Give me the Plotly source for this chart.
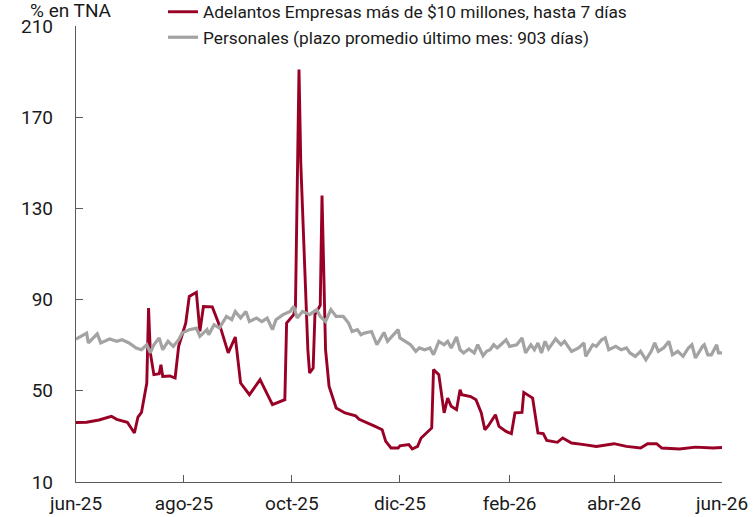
import plotly.graph_objects as go

# Tasa de adelantos a empresas (más de $10 millones, hasta 7 días), % TNA
adelantos_fechas = [
    "2025-06-01", "2025-06-07", "2025-06-14", "2025-06-21", "2025-06-24", "2025-06-30",
    "2025-07-04", "2025-07-06", "2025-07-08", "2025-07-11", "2025-07-12", "2025-07-13",
    "2025-07-15", "2025-07-18", "2025-07-19", "2025-07-20", "2025-07-24", "2025-07-27",
    "2025-07-29", "2025-07-31", "2025-08-02", "2025-08-04", "2025-08-08", "2025-08-10",
    "2025-08-12", "2025-08-17", "2025-08-20", "2025-08-22", "2025-08-26", "2025-08-30",
    "2025-09-02", "2025-09-07", "2025-09-13", "2025-09-17", "2025-09-20", "2025-09-27",
    "2025-09-28", "2025-10-02", "2025-10-03", "2025-10-05", "2025-10-06", "2025-10-10",
    "2025-10-11", "2025-10-13", "2025-10-14", "2025-10-17", "2025-10-18", "2025-10-20",
    "2025-10-22", "2025-10-26", "2025-10-31", "2025-11-06", "2025-11-08", "2025-11-17",
    "2025-11-21", "2025-11-23", "2025-11-26", "2025-11-30", "2025-12-01", "2025-12-06",
    "2025-12-08", "2025-12-11", "2025-12-13", "2025-12-19", "2025-12-20", "2025-12-23",
    "2025-12-26", "2025-12-28", "2025-12-30", "2026-01-02", "2026-01-04", "2026-01-05",
    "2026-01-10", "2026-01-13", "2026-01-16", "2026-01-18", "2026-01-20", "2026-01-24",
    "2026-01-26", "2026-01-30", "2026-02-02", "2026-02-04", "2026-02-08", "2026-02-09",
    "2026-02-14", "2026-02-17", "2026-02-20", "2026-02-22", "2026-02-28", "2026-03-03",
    "2026-03-08", "2026-03-15", "2026-03-22", "2026-04-01", "2026-04-08", "2026-04-16",
    "2026-04-20", "2026-04-25", "2026-04-28", "2026-05-08", "2026-05-17", "2026-05-27",
    "2026-06-01",
]
adelantos_tna = [
    36.1, 36.2, 37.2, 38.8, 37.5, 36.2,
    31.5, 38.5, 40.5, 53.4, 86.3, 66.7,
    57.1, 57.5, 61.4, 56.3, 56.5, 55.6,
    69.5, 74.6, 79.7, 91.4, 93.2, 76.1,
    87.0, 86.8, 80.4, 76.8, 66.6, 73.6,
    53.4, 48.3, 54.9, 48.3, 43.9, 46.1,
    79.7, 83.4, 87.0, 190.9, 150.0, 68.0,
    57.8, 60.0, 83.4, 87.5, 135.6, 68.0,
    51.9, 42.5, 40.3, 39.0, 37.5, 34.4,
    32.9, 27.8, 24.9, 24.9, 25.9, 26.4,
    24.5, 25.6, 29.3, 33.7, 59.3, 57.1,
    40.3, 46.8, 43.2, 41.7, 50.5, 48.3,
    47.5, 46.1, 40.3, 32.9, 34.7, 39.5,
    34.4, 32.2, 31.2, 40.3, 40.5, 49.3,
    46.8, 31.5, 31.2, 28.2, 27.4, 29.3,
    27.1, 26.4, 25.6, 26.8, 25.6, 24.9,
    26.8, 26.8, 24.9, 24.5, 25.3, 24.9,
    25.1,
]

# Tasa de préstamos personales, % TNA
personales_fechas = [
    "2025-06-01", "2025-06-07", "2025-06-08", "2025-06-13", "2025-06-15", "2025-06-20",
    "2025-06-24", "2025-06-27", "2025-07-01", "2025-07-05", "2025-07-08", "2025-07-11",
    "2025-07-13", "2025-07-15", "2025-07-18", "2025-07-20", "2025-07-23", "2025-07-26",
    "2025-07-29", "2025-07-31", "2025-08-04", "2025-08-08", "2025-08-10", "2025-08-14",
    "2025-08-15", "2025-08-18", "2025-08-21", "2025-08-25", "2025-08-28", "2025-08-30",
    "2025-09-02", "2025-09-05", "2025-09-07", "2025-09-11", "2025-09-14", "2025-09-17",
    "2025-09-20", "2025-09-22", "2025-09-26", "2025-09-30", "2025-10-02", "2025-10-04",
    "2025-10-07", "2025-10-11", "2025-10-15", "2025-10-17", "2025-10-20", "2025-10-23",
    "2025-10-26", "2025-10-30", "2025-11-02", "2025-11-04", "2025-11-07", "2025-11-09",
    "2025-11-11", "2025-11-15", "2025-11-18", "2025-11-22", "2025-11-24", "2025-11-30",
    "2025-12-01", "2025-12-04", "2025-12-07", "2025-12-10", "2025-12-12", "2025-12-15",
    "2025-12-18", "2025-12-20", "2025-12-23", "2025-12-26", "2025-12-28", "2025-12-30",
    "2026-01-02", "2026-01-04", "2026-01-06", "2026-01-09", "2026-01-12", "2026-01-14",
    "2026-01-17", "2026-01-19", "2026-01-21", "2026-01-23", "2026-01-25", "2026-01-27",
    "2026-01-30", "2026-02-01", "2026-02-05", "2026-02-08", "2026-02-10", "2026-02-13",
    "2026-02-15", "2026-02-17", "2026-02-19", "2026-02-21", "2026-02-23", "2026-02-27",
    "2026-03-02", "2026-03-04", "2026-03-08", "2026-03-12", "2026-03-15", "2026-03-16",
    "2026-03-20", "2026-03-22", "2026-03-25", "2026-03-27", "2026-03-29", "2026-04-02",
    "2026-04-05", "2026-04-08", "2026-04-10", "2026-04-13", "2026-04-16", "2026-04-19",
    "2026-04-22", "2026-04-24", "2026-04-26", "2026-04-29", "2026-05-02", "2026-05-04",
    "2026-05-07", "2026-05-10", "2026-05-13", "2026-05-15", "2026-05-17", "2026-05-21",
    "2026-05-22", "2026-05-24", "2026-05-26", "2026-05-29", "2026-05-30", "2026-06-01",
]
personales_tna = [
    72.7, 75.3, 71.0, 75.0, 71.0, 72.7,
    71.7, 72.4, 71.0, 68.8, 68.0, 70.2,
    66.6, 70.2, 73.2, 68.0, 71.7, 69.5,
    72.4, 75.4, 76.8, 77.5, 73.9, 76.8,
    74.6, 79.0, 77.5, 82.6, 81.2, 84.8,
    81.9, 84.8, 80.4, 81.9, 80.4, 81.9,
    76.8, 81.2, 83.4, 84.8, 87.0, 81.9,
    84.8, 83.4, 85.6, 82.6, 80.4, 85.6,
    82.6, 82.6, 79.7, 76.0, 76.8, 74.6,
    75.3, 76.0, 70.2, 75.6, 71.7, 76.8,
    73.2, 71.7, 70.2, 67.3, 68.8, 68.0,
    68.8, 65.8, 71.7, 70.2, 71.7, 68.8,
    73.6, 68.0, 66.6, 68.3, 66.6, 70.2,
    65.4, 67.3, 68.0, 70.2, 68.8, 70.2,
    72.4, 69.5, 70.2, 73.2, 66.6, 70.2,
    68.0, 71.0, 66.6, 71.7, 68.4, 72.8,
    70.2, 71.7, 67.3, 68.8, 71.0, 65.1,
    70.2, 69.5, 72.4, 73.2, 68.0, 69.5,
    68.0, 68.8, 66.6, 65.1, 67.3, 63.6,
    67.3, 71.0, 67.3, 68.8, 71.7, 65.8,
    67.3, 65.1, 68.8, 70.2, 64.4, 69.5,
    70.2, 65.8, 65.8, 70.2, 66.6, 66.6,
]

# Etiquetas del eje temporal (bimestrales)
meses_vals = ["2025-06-01", "2025-08-01", "2025-10-01", "2025-12-01",
              "2026-02-01", "2026-04-01", "2026-06-01"]
meses_text = ["jun-25", "ago-25", "oct-25", "dic-25", "feb-26", "abr-26", "jun-26"]
y_ticks = [10, 50, 90, 130, 170, 210]

ROJO = "#990026"
GRIS = "#a3a3a3"
TEXTO = "#1a1a1a"
EJE = "#5a5a5a"

PLOT_H = 517 - 26 - 35
PLOT_W = 756 - 76 - 34

fig = go.Figure()
fig.add_trace(go.Scatter(
    x=adelantos_fechas, y=adelantos_tna, mode="lines",
    name="Adelantos Empresas más de $10 millones, hasta 7 días",
    line=dict(color=ROJO, width=2.9),
))
fig.add_trace(go.Scatter(
    x=personales_fechas, y=personales_tna, mode="lines",
    name="Personales (plazo promedio último mes: 903 días)",
    line=dict(color=GRIS, width=3.2),
))

fig.update_layout(
    width=756, height=517,
    margin=dict(l=76, r=34, t=26, b=35, autoexpand=False),
    paper_bgcolor="white", plot_bgcolor="white",
    font=dict(family="Roboto", color=TEXTO, size=19),
    showlegend=True,
    legend=dict(
        x=(163 - 76) / PLOT_W, xanchor="left",
        y=1 + (26 + 6) / PLOT_H, yanchor="top",
        bgcolor="rgba(0,0,0,0)", borderwidth=0,
        font=dict(size=17.3, color=TEXTO),
        tracegroupgap=0,
    ),
    annotations=[dict(
        text="% en TNA", xref="paper", yref="paper",
        x=-48 / PLOT_W, y=1 + 15 / PLOT_H, xanchor="left", yanchor="middle",
        showarrow=False, font=dict(size=19, color=TEXTO),
    )],
)

fig.update_xaxes(
    type="date", range=["2025-06-01", "2026-06-01"],
    tickvals=meses_vals, ticktext=meses_text,
    showgrid=False, zeroline=False,
    showline=True, linecolor=EJE, linewidth=1.3,
    ticks="inside", ticklen=7, tickcolor=EJE, tickwidth=1.3,
    ticklabelstandoff=4,
    tickfont=dict(size=19, color=TEXTO),
)
fig.update_yaxes(
    range=[10, 210], tickvals=y_ticks,
    showgrid=False, zeroline=False,
    showline=True, linecolor=EJE, linewidth=1.3,
    ticks="inside", ticklen=7, tickcolor=EJE, tickwidth=1.3,
    ticklabelstandoff=18,
    tickfont=dict(size=19, color=TEXTO),
)

fig.write_html("out.html")
